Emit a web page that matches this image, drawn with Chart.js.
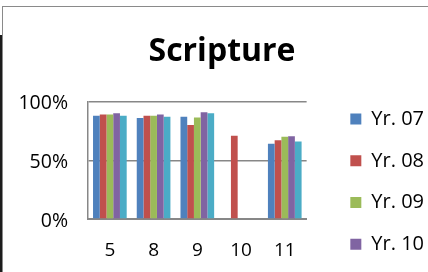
<!DOCTYPE html>
<html>
<head>
<meta charset="utf-8">
<script src="https://cdn.jsdelivr.net/npm/chart.js@4"></script>
<style>
  html, body { margin: 0; padding: 0; overflow: hidden; background: #fff; }
  #frame { position: absolute; left: 2px; top: 6px; width: 600px; height: 400px;
           border-top: 1px solid #8a8a8a; border-left: 1px solid #8a8a8a; }
  #edge { position: absolute; left: 0; top: 35px; width: 2px; height: 300px; background: #1c1c1c; }
  #scriptureChart { position: absolute; left: 3px; top: 7px; }
</style>
</head>
<body>
<div id="frame"></div>
<div id="edge"></div>
<canvas id="scriptureChart" width="435" height="420"></canvas>
<script>
const grades = ['5', '8', '9', '10', '11'];
const yearLabels = ['Yr. 07', 'Yr. 08', 'Yr. 09', 'Yr. 10', 'Yr. 11'];
const yr07 = [88, 86, 87, null, 64];
const yr08 = [89, 88, 80, 71, 67];
const yr09 = [89, 88, 86.5, null, 70];
const yr10 = [90, 89, 91, null, 70.5];
const yr11 = [88, 87, 90, null, 66];
const yTicks = [0, 50, 100];

const colours = ['#4f81bd', '#c0504d', '#9bbb59', '#8064a2', '#4bacc6'];
const font = 'Open Sans';
const gridGrey = '#878787';

document.addEventListener("DOMContentLoaded", () => {
    const canvas = document.getElementById("scriptureChart");
    if (!canvas) return;
    const ctx = canvas.getContext("2d");

    const series = [yr07, yr08, yr09, yr10, yr11];

    new Chart(ctx, {
        type: 'bar',
        data: {
            labels: grades,
            datasets: series.map((vals, i) => ({
                label: yearLabels[i],
                data: vals,
                backgroundColor: colours[i],
                borderWidth: 0,
                categoryPercentage: 0.77,
                barPercentage: 1
            }))
        },
        options: {
            responsive: false,
            animation: false,
            layout: { padding: { left: 7, right: 4, top: 0, bottom: 0 } },
            scales: {
                x: {
                    grid: { display: false, drawTicks: false },
                    border: { color: gridGrey, width: 2 },
                    ticks: { color: '#000', padding: 20, font: { family: font, size: 19 } },
                    afterFit: s => { s.height = 208; }
                },
                y: {
                    min: 0,
                    max: 100,
                    afterBuildTicks: s => { s.ticks = yTicks.map(v => ({ value: v })); },
                    ticks: { color: '#000', padding: 20, labelOffset: 2,
                             font: { family: font, size: 19.5 },
                             callback: v => v + '%' },
                    grid: { color: gridGrey, lineWidth: 1.5, drawTicks: false },
                    border: { color: gridGrey, width: 1.5 },
                    afterFit: s => { s.width = 78; }
                },
                // hidden spacer so the plot stops short of the legend
                yRight: {
                    display: false,
                    position: 'right',
                    afterFit: s => { s.width = 22; }
                }
            },
            plugins: {
                title: {
                    display: true,
                    text: 'Scripture',
                    color: '#000',
                    font: { family: font, size: 32, weight: 'bold' },
                    padding: { top: 25.6, bottom: 30.6 }
                },
                legend: {
                    position: 'right',
                    align: 'start',
                    title: { display: true, text: '', padding: { top: 66, bottom: 0 } },
                    labels: {
                        color: '#000',
                        boxWidth: 11,
                        boxHeight: 11,
                        padding: 21.7,
                        font: { family: font, size: 20 }
                    }
                },
                tooltip: { enabled: false }
            }
        }
    });
});
</script>
</body>
</html>
